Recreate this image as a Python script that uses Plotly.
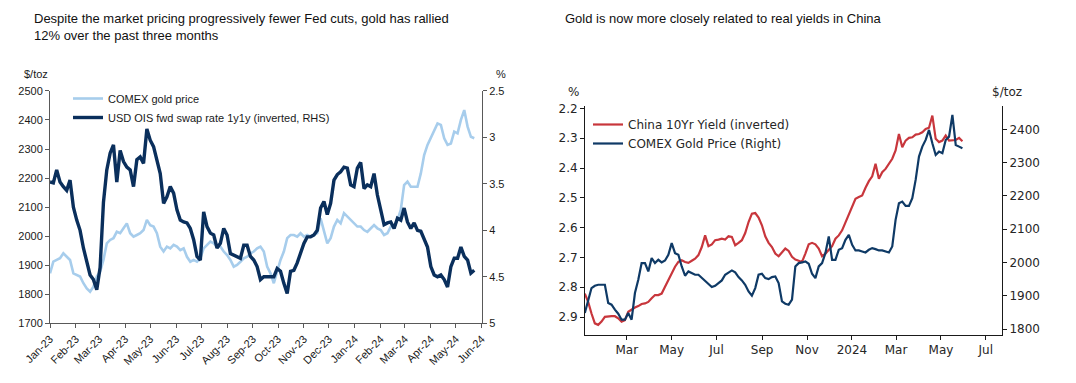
import pandas as pd
import plotly.graph_objects as go

# ---------------- Left chart data ----------------
left_title = ("Despite the market pricing progressively fewer Fed cuts, gold has rallied<br>"
              "12% over the past three months")
left_gold = [
    1872, 1912, 1918, 1924, 1941, 1929, 1918, 1872, 1866, 1861,
    1838, 1820, 1809, 1826, 1861, 1878, 1918, 1975, 1987, 1993,
    2015, 2010, 2027, 2044, 2010, 1998, 2004, 2010, 2021, 2056,
    2038, 2033, 2010, 1964, 1947, 1964, 1958, 1970, 1964, 1952,
    1958, 1929, 1912, 1918, 1912, 1924, 1958, 1970, 1981, 1975,
    1964, 1964, 1947, 1935, 1918, 1895, 1901, 1912, 1924, 1929,
    1941, 1947, 1958, 1964, 1947, 1895, 1872, 1838, 1878, 1918,
    1947, 1993, 2004, 2004, 1998, 2010, 1998, 2004, 1998, 2004,
    2010, 2061, 2021, 1975, 1993, 2033, 2056, 2044, 2079, 2067,
    2056, 2044, 2033, 2033, 2021, 2015, 2027, 2038, 2027, 2021,
    2004, 2010, 2033, 2033, 2056, 2090, 2176, 2188, 2170, 2170,
    2170, 2216, 2279, 2314, 2337, 2360, 2388, 2383, 2337, 2314,
    2319, 2360, 2354, 2400, 2434, 2377, 2342, 2337,
]
left_ois = [
    3.48, 3.49, 3.35, 3.48, 3.53, 3.57, 3.46, 3.75, 3.89, 4.00,
    4.19, 4.32, 4.48, 4.53, 4.64, 4.40, 3.70, 3.35, 3.17, 3.08,
    3.48, 3.14, 3.26, 3.32, 3.35, 3.53, 3.24, 3.21, 3.28, 2.91,
    3.03, 3.10, 3.24, 3.39, 3.71, 3.64, 3.53, 3.60, 3.78, 3.89,
    3.91, 3.92, 3.98, 4.10, 4.28, 4.32, 3.80, 3.96, 4.03, 4.05,
    4.19, 4.14, 3.98, 4.05, 4.25, 4.27, 4.28, 4.30, 4.16, 4.16,
    4.28, 4.32, 4.39, 4.53, 4.50, 4.50, 4.50, 4.50, 4.41, 4.44,
    4.57, 4.68, 4.44, 4.43, 4.35, 4.23, 4.14, 4.07, 4.07, 4.05,
    4.00, 3.76, 3.69, 3.83, 3.71, 3.46, 3.40, 3.37, 3.32, 3.33,
    3.51, 3.53, 3.33, 3.27, 3.55, 3.51, 3.53, 3.39, 3.62, 3.78,
    3.94, 3.92, 3.91, 3.98, 3.87, 3.89, 3.76, 3.91, 3.98, 3.92,
    4.00, 4.01, 4.10, 4.18, 4.39, 4.48, 4.50, 4.48, 4.53, 4.61,
    4.39, 4.30, 4.30, 4.18, 4.28, 4.32, 4.46, 4.43,
]
left_dates = pd.date_range("2023-01-01", periods=len(left_gold), freq="4D")
left_ticks = pd.date_range("2023-01-01", "2024-06-01", freq="MS")
left_ticktext = [d.strftime("%b-%y") for d in left_ticks]
left_names = ["COMEX gold price", "USD OIS fwd swap rate 1y1y (inverted, RHS)"]

# ---------------- Right chart data ----------------
right_title = "Gold is now more closely related to real yields in China"
china_yield = [
    2.821, 2.849, 2.888, 2.921, 2.926, 2.915, 2.899, 2.897, 2.897, 2.897,
    2.904, 2.915, 2.910, 2.882, 2.874, 2.868, 2.863, 2.856, 2.854, 2.849,
    2.837, 2.826, 2.826, 2.821, 2.798, 2.774, 2.752, 2.731, 2.715, 2.709,
    2.715, 2.718, 2.711, 2.704, 2.692, 2.665, 2.626, 2.662, 2.656, 2.642,
    2.640, 2.637, 2.640, 2.629, 2.631, 2.659, 2.651, 2.642, 2.618, 2.581,
    2.553, 2.551, 2.566, 2.592, 2.629, 2.651, 2.665, 2.687, 2.696, 2.681,
    2.670, 2.678, 2.698, 2.707, 2.711, 2.715, 2.687, 2.656, 2.651, 2.656,
    2.670, 2.696, 2.687, 2.674, 2.662, 2.637, 2.626, 2.609, 2.581, 2.553,
    2.529, 2.503, 2.497, 2.492, 2.466, 2.444, 2.428, 2.386, 2.436, 2.414,
    2.403, 2.386, 2.369, 2.341, 2.286, 2.330, 2.308, 2.299, 2.297, 2.288,
    2.286, 2.280, 2.269, 2.265, 2.224, 2.302, 2.313, 2.308, 2.291, 2.308,
    2.308, 2.306, 2.299, 2.310,
]
comex_gold = [
    1848, 1888, 1923, 1930, 1933, 1933, 1933, 1878, 1873, 1858,
    1846, 1828, 1828, 1848, 1828, 1908, 1948, 1998, 1998, 1973,
    2013, 1998, 2008, 2000, 2006, 2023, 2058, 2028, 2023, 1988,
    1960, 1973, 1968, 1963, 1963, 1953, 1943, 1933, 1926, 1930,
    1938, 1946, 1963, 1970, 1976, 1970, 1956, 1946, 1933, 1913,
    1900, 1923, 1963, 1966, 1953, 1950, 1956, 1958, 1938, 1883,
    1876, 1873, 1888, 1988, 1998, 2000, 2003, 1996, 1966, 1953,
    1988, 1998, 2028, 2078, 2008, 2008, 2038, 2043, 2068, 2083,
    2053, 2036, 2036, 2033, 2030, 2038, 2043, 2040, 2036, 2036,
    2033, 2030, 2048, 2128, 2178, 2183, 2170, 2170, 2193, 2248,
    2318, 2348, 2368, 2398, 2358, 2323, 2333, 2328, 2368, 2378,
    2443, 2353, 2348, 2343,
]
right_dates = pd.date_range("2023-01-03", periods=len(comex_gold), freq="109h")
right_tickvals = ["2023-03-01", "2023-05-01", "2023-07-01", "2023-09-01", "2023-11-01",
                  "2024-01-01", "2024-03-01", "2024-05-01", "2024-07-01"]
right_ticktext = ["Mar", "May", "Jul", "Sep", "Nov", "2024", "Mar", "May", "Jul"]
right_names = ["China 10Yr Yield (inverted)", "COMEX Gold Price (Right)"]

# ---------------- Style ----------------
# The page body has an 8px default margin, so the figure is sized to fit the
# 1076x383 window and positions below are given in window pixels.
PAGE_MARGIN = 8
W, H = 1076 - 2 * PAGE_MARGIN, 383 - 2 * PAGE_MARGIN
LIGHT = "#a7cdec"
DARK = "#0a2f5c"
RED = "#c8363c"
NAVY = "#0f3a66"
ARIAL = "Liberation Sans, Arial, sans-serif"
DEJAVU = "DejaVu Sans, sans-serif"
AX_L = "#595959"


def px_x(p):
    return (p - PAGE_MARGIN) / W


def px_y(p):
    return 1 - (p - PAGE_MARGIN) / H


fig = go.Figure()

fig.add_trace(go.Scatter(x=left_dates, y=left_gold, name=left_names[0], mode="lines",
                         line=dict(color=LIGHT, width=2.6), xaxis="x", yaxis="y",
                         legend="legend"))
fig.add_trace(go.Scatter(x=left_dates, y=left_ois, name=left_names[1], mode="lines",
                         line=dict(color=DARK, width=3.4), xaxis="x", yaxis="y2",
                         legend="legend"))
fig.add_trace(go.Scatter(x=right_dates, y=china_yield, name=right_names[0], mode="lines",
                         line=dict(color=RED, width=2.2), xaxis="x2", yaxis="y3",
                         legend="legend2"))
fig.add_trace(go.Scatter(x=right_dates, y=comex_gold, name=right_names[1], mode="lines",
                         line=dict(color=NAVY, width=2.2), xaxis="x2", yaxis="y4",
                         legend="legend2"))

left_dom_x = [px_x(50), px_x(482)]
left_dom_y = [px_y(323.3), px_y(90.9)]
right_dom_x = [px_x(585), px_x(1002)]
right_dom_y = [px_y(335), px_y(106)]

lfont = dict(family=ARIAL, size=11, color="#1a1a1a")
rfont = dict(family=DEJAVU, size=12, color="#262626")

common = dict(showgrid=False, zeroline=False, automargin=False, ticks="outside",
              ticklen=4, linewidth=1, showline=True)

fig.update_layout(
    width=W, height=H,
    margin=dict(l=0, r=0, t=0, b=0, autoexpand=False),
    paper_bgcolor="white", plot_bgcolor="white",
    showlegend=True,
    xaxis=dict(domain=left_dom_x, anchor="y", type="date",
               range=["2023-01-01", "2024-06-01 06:00"],
               tickvals=list(left_ticks), ticktext=left_ticktext, tickangle=-45,
               linecolor=AX_L, tickcolor=AX_L, tickfont=lfont, **common),
    yaxis=dict(domain=left_dom_y, anchor="x", range=[1700, 2500], dtick=100,
               linecolor=AX_L, tickcolor=AX_L, tickfont=lfont, **common),
    yaxis2=dict(overlaying="y", anchor="x", side="right", range=[5, 2.5],
                tickvals=[2.5, 3, 3.5, 4, 4.5, 5],
                ticktext=["2.5", "3", "3.5", "4", "4.5", "5"],
                linecolor=AX_L, tickcolor=AX_L, tickfont=lfont, **common),
    xaxis2=dict(domain=right_dom_x, anchor="y3", type="date",
                range=["2023-01-03 06:00", "2024-07-23"],
                tickvals=right_tickvals, ticktext=right_ticktext,
                linecolor="#1a1a1a", tickcolor="#1a1a1a", tickfont=rfont, **common),
    yaxis3=dict(domain=right_dom_y, anchor="x2", range=[2.96, 2.192], dtick=0.1,
                linecolor="#1a1a1a", tickcolor="#1a1a1a", tickfont=rfont, **common),
    yaxis4=dict(overlaying="y3", anchor="x2", side="right", range=[1782, 2470],
                dtick=100,
                linecolor="#1a1a1a", tickcolor="#1a1a1a", tickfont=rfont, **common),
    legend=dict(x=px_x(68), y=px_y(84), xanchor="left", yanchor="top",
                bgcolor="rgba(0,0,0,0)", font=lfont, itemwidth=30,
                tracegroupgap=0),
    legend2=dict(x=px_x(588), y=px_y(110), xanchor="left", yanchor="top",
                 bgcolor="rgba(0,0,0,0)", font=rfont, itemwidth=30,
                 tracegroupgap=0),
)

annos = [
    dict(text=left_title, x=px_x(32), y=px_y(9), xanchor="left", yanchor="top",
         align="left", font=dict(family=ARIAL, size=13, color="#111")),
    dict(text=right_title, x=px_x(563), y=px_y(9), xanchor="left", yanchor="top",
         align="left", font=dict(family=ARIAL, size=13, color="#111")),
    dict(text="$/toz", x=px_x(22), y=px_y(74), xanchor="left", yanchor="middle",
         font=lfont),
    dict(text="%", x=px_x(494), y=px_y(74), xanchor="left", yanchor="middle",
         font=lfont),
    dict(text="%", x=px_x(566), y=px_y(92), xanchor="left", yanchor="middle",
         font=rfont),
    dict(text="$/toz", x=px_x(990), y=px_y(92), xanchor="left", yanchor="middle",
         font=rfont),
]
for a in annos:
    a.update(xref="paper", yref="paper", showarrow=False)
    fig.add_annotation(**a)

fig.write_html("out.html")
